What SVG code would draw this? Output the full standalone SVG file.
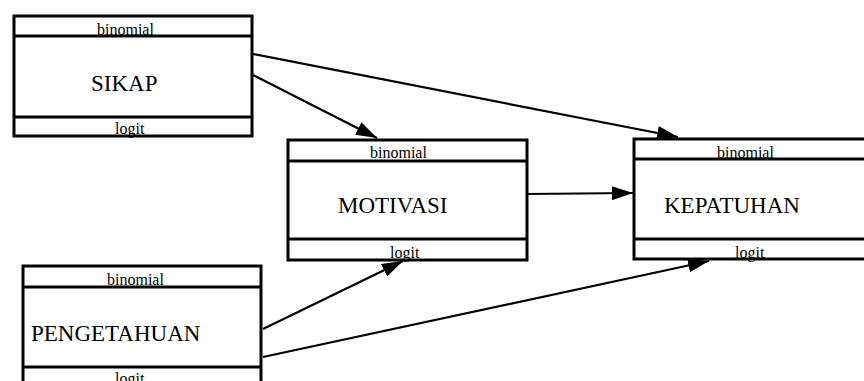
<svg xmlns="http://www.w3.org/2000/svg" width="864" height="381" viewBox="0 0 864 381">
<style>
.box{fill:#fff;stroke:#000;stroke-width:3}
.div{stroke:#000;stroke-width:3}
.sm{font-family:"Liberation Serif",serif;font-size:16px;fill:#000}
.lg{font-family:"Liberation Serif",serif;font-size:23px;fill:#000}
.edge{stroke:#000;stroke-width:2.2;fill:none;marker-end:url(#ah)}
</style>
<defs>
<marker id="ah" markerUnits="userSpaceOnUse" markerWidth="22" markerHeight="14" refX="21" refY="7" orient="auto">
<path d="M0,0 L21,7 L0,14 Z" fill="#000"/>
</marker>
</defs>
<rect width="864" height="381" fill="#fff"/>
<g id="connectors">
<line class="edge" x1="253" y1="54" x2="678" y2="137"/>
<line class="edge" x1="253" y1="75" x2="377" y2="138"/>
<line class="edge" x1="527" y1="194" x2="633" y2="193"/>
<line class="edge" x1="263" y1="329" x2="403" y2="261"/>
<line class="edge" x1="263" y1="357" x2="709" y2="261"/>
</g>
<g id="SIKAP">
<rect class="box" x="14" y="16" width="238" height="120"/>
<line class="div" x1="14" y1="36" x2="252" y2="36"/>
<line class="div" x1="14" y1="117" x2="252" y2="117"/>
<text class="sm" x="97" y="35">binomial</text>
<text class="lg" x="91" y="91">SIKAP</text>
<text class="sm" x="115" y="134">logit</text>
</g>
<g id="MOTIVASI">
<rect class="box" x="288" y="140" width="239" height="120"/>
<line class="div" x1="288" y1="161" x2="527" y2="161"/>
<line class="div" x1="288" y1="239" x2="527" y2="239"/>
<text class="sm" x="370" y="158">binomial</text>
<text class="lg" x="338" y="213">MOTIVASI</text>
<text class="sm" x="390" y="258">logit</text>
</g>
<g id="KEPATUHAN">
<rect class="box" x="634" y="139" width="250" height="120"/>
<line class="div" x1="634" y1="159" x2="884" y2="159"/>
<line class="div" x1="634" y1="239" x2="884" y2="239"/>
<text class="sm" x="717" y="158">binomial</text>
<text class="lg" x="664" y="213">KEPATUHAN</text>
<text class="sm" x="735" y="258">logit</text>
</g>
<g id="PENGETAHUAN">
<rect class="box" x="23" y="266" width="238" height="130"/>
<line class="div" x1="23" y1="287" x2="261" y2="287"/>
<line class="div" x1="23" y1="367" x2="261" y2="367"/>
<text class="sm" x="107" y="285">binomial</text>
<text class="lg" x="31" y="341">PENGETAHUAN</text>
<text class="sm" x="115" y="384">logit</text>
</g>
</svg>
